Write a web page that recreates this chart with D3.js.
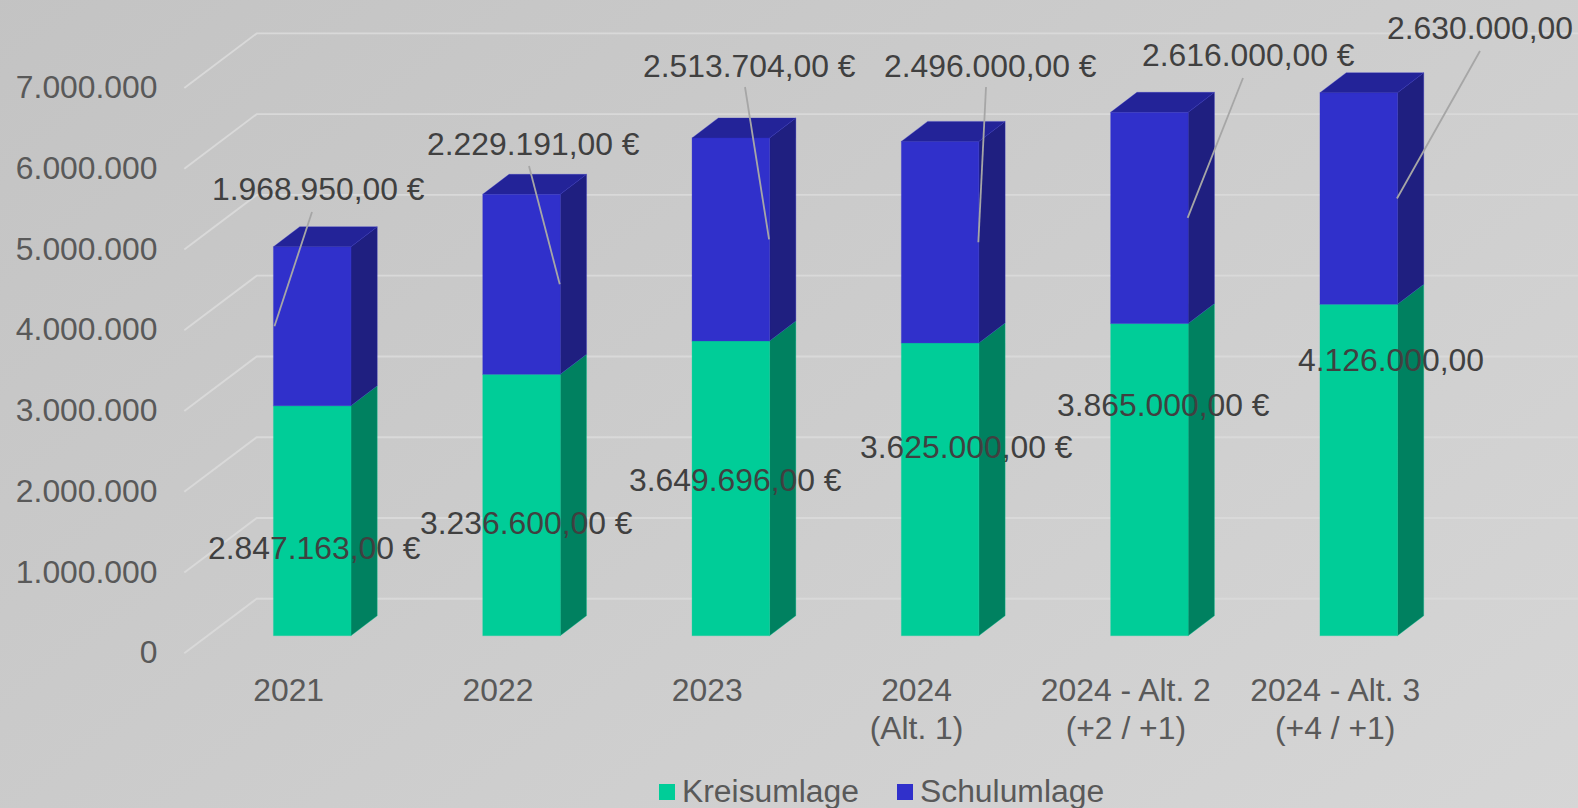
<!DOCTYPE html>
<html><head><meta charset="utf-8">
<script src="https://cdn.jsdelivr.net/npm/d3@7"></script>
<style>html,body{margin:0;padding:0;overflow:hidden}svg{display:block}text{font-family:"Liberation Sans",Arial,sans-serif}</style>
</head><body><svg id="c" width="1578" height="808"></svg>
<script>
const categories=[["2021"],["2022"],["2023"],["2024","(Alt. 1)"],["2024 - Alt. 2","(+2 / +1)"],["2024 - Alt. 3","(+4 / +1)"]];
// values as printed in the data labels
const kreisumlage=[2847163,3236600,3649696,3625000,3865000,4126000];
const schulumlage=[1968950,2229191,2513704,2496000,2616000,2630000];
// bar heights (the last column is drawn a little shorter than its labels)
const kreisumlageBars=[2847163,3236600,3649696,3625000,3865000,4104000];
const schulumlageBars=[1968950,2229191,2513704,2496000,2616000,2620000];
const euroSuffix=[true,true,true,true,true,false];
const yTicks=[0,1000000,2000000,3000000,4000000,5000000,6000000,7000000];
const seriesNames=["Kreisumlage","Schulumlage"];

// layout
const W=1578,H=808,FS=31.85;
const wall={dx:72.4,dy:54.6};
const bar={dx:26.3,dy:20,w:77.5,base:635.7};
const kLabelPos=[[208,559],[420,534],[629,491],[860,458],[1057,416],[1298,371]];
const sLabelPos=[[212,200],[427,155],[643,77],[884,77],[1142,66],[1387,39]];
const leaderFrom=[[312,212],[529,166],[745,87],[986,87],[1243,78],[1480,51]];
const leaderEdge=[0,1,1,1,1,1];

const svg=d3.select("#c");
const defs=svg.append("defs");
const g0=defs.append("linearGradient").attr("id","bg").attr("gradientUnits","userSpaceOnUse")
 .attr("x1",300).attr("y1",-250).attr("x2",1278).attr("y2",1058);
g0.append("stop").attr("offset",0).attr("stop-color","#c3c3c3");
g0.append("stop").attr("offset",1).attr("stop-color","#d6d6d6");
svg.append("rect").attr("width",W).attr("height",H).attr("fill","url(#bg)");

const y=d3.scaleLinear().domain([0,7000000]).range([653.3,88]);
const yBar=d3.scaleLinear().domain([0,7000000]).range([bar.base,bar.base-565.3]);
const x=d3.scaleBand().domain(d3.range(6)).range([184.3,1440.1]);
const xFront=i=>x(i)+x.bandwidth()/2-15.5;

// grid
const grid=svg.append("g").attr("fill","none").attr("stroke","#d9d9d9").attr("stroke-width",1.9);
yTicks.forEach(t=>{
 grid.append("path").attr("d",d3.line()([[184.3,y(t)],[184.3+wall.dx,y(t)-wall.dy],[W,y(t)-wall.dy]]));
});

// y axis
const axis=d3.axisLeft(y).tickValues(yTicks).tickSize(0).tickPadding(0)
 .tickFormat(d=>d3.format(",")(d).replace(/,/g,"."));
const ag=svg.append("g").attr("transform","translate(157.5,0)").call(axis);
ag.select(".domain").remove();
ag.selectAll("text").attr("fill","#595959").attr("font-size",FS).attr("dy",".30em")
 .style("font-family",'"Liberation Sans",Arial,sans-serif');

// bars
const series=[
 {vals:kreisumlageBars,front:"#00cd98",side:"#008160",top:"#00a87c"},
 {vals:schulumlageBars,front:"#3030cb",side:"#1f1f80",top:"#232398"}
];
const barsG=svg.append("g").attr("stroke-width",1).attr("stroke-opacity",.3);
categories.forEach((_,i)=>{
 const x0=xFront(i),x1=x0+bar.w;
 let b=0;
 series.forEach((se,si)=>{
  const v=se.vals[i],yb=yBar(b),yt=yBar(b+v);
  barsG.append("polygon").attr("fill",se.side).attr("stroke",se.front)
   .attr("points",[[x1,yb],[x1+bar.dx,yb-bar.dy],[x1+bar.dx,yt-bar.dy],[x1,yt]].join(" "));
  barsG.append("rect").attr("x",x0).attr("y",yt).attr("width",bar.w).attr("height",yb-yt).attr("fill",se.front).attr("stroke",se.front);
  if(si===1) barsG.append("polygon").attr("fill",se.top).attr("stroke",se.front)
   .attr("points",[[x0,yt],[x0+bar.dx,yt-bar.dy],[x1+bar.dx,yt-bar.dy],[x1,yt]].join(" "));
  b+=v;
 });
});

// leader lines
const lg=svg.append("g").attr("stroke","#a6a6a6").attr("stroke-width",1.8).attr("fill","none");
categories.forEach((_,i)=>{
 const x0=xFront(i);
 const ax=x0+(leaderEdge[i]?bar.w-0.5:1);
 const ay=yBar(kreisumlageBars[i]+schulumlageBars[i]/2);
 lg.append("line").attr("x1",leaderFrom[i][0]).attr("y1",leaderFrom[i][1]).attr("x2",ax).attr("y2",ay);
});

// data labels
const fmt=d3.formatLocale({decimal:",",thousands:".",grouping:[3],currency:["",""]}).format(",.2f");
const lab=svg.append("g").attr("fill","#404040").attr("font-size",FS);
categories.forEach((_,i)=>{
 const suf=euroSuffix[i]?" €":"";
 lab.append("text").attr("x",kLabelPos[i][0]).attr("y",kLabelPos[i][1]).text(fmt(kreisumlage[i])+suf);
 lab.append("text").attr("x",sLabelPos[i][0]).attr("y",sLabelPos[i][1]).text(fmt(schulumlage[i])+suf);
});

// category labels
const cg=svg.append("g").attr("fill","#595959").attr("font-size",FS).attr("text-anchor","middle");
categories.forEach((c,i)=>{
 c.forEach((t,j)=>cg.append("text").attr("x",x(i)+x.bandwidth()/2-0.3).attr("y",701+j*37.5).text(t));
});

// legend
const legX=[659,897];
const leg=svg.append("g");
seriesNames.forEach((n,i)=>{
 leg.append("rect").attr("x",legX[i]).attr("y",784).attr("width",16).attr("height",16).attr("fill",series[i].front);
 leg.append("text").attr("x",legX[i]+23).attr("y",802).attr("fill","#595959").attr("font-size",FS).text(n);
});
</script></body></html>
